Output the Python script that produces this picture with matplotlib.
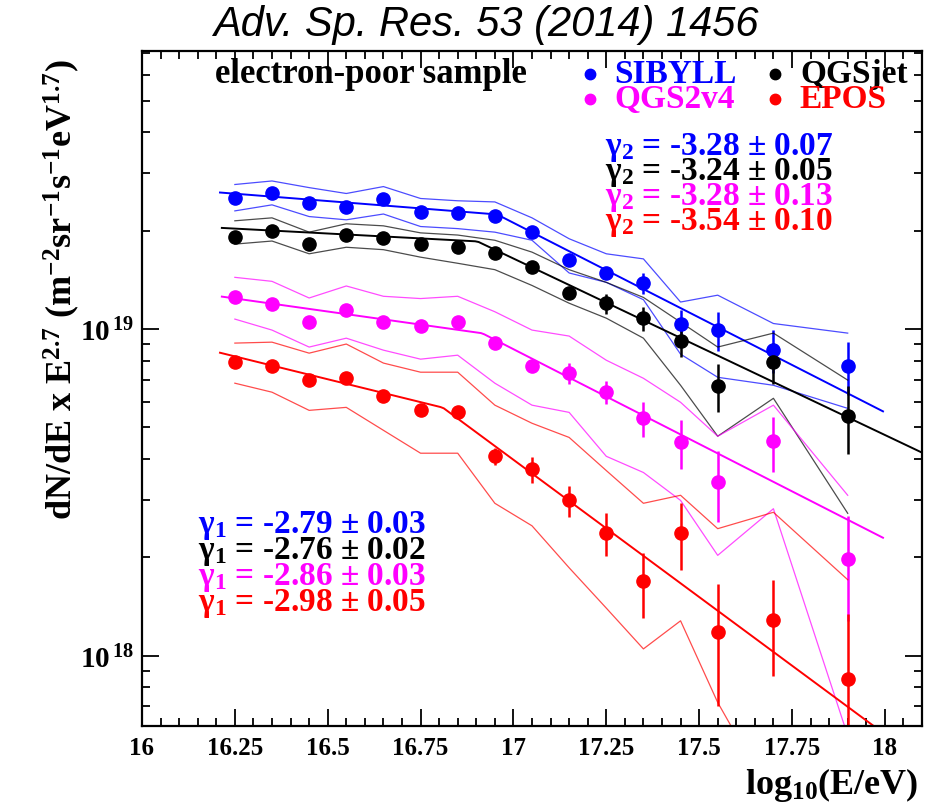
# Electron-poor sample spectra (KASCADE-Grande), four hadronic interaction models
import matplotlib.pyplot as plt
import numpy as np
from matplotlib.ticker import MultipleLocator, LogLocator, NullFormatter, FuncFormatter

plt.rcParams['font.family'] = ['Liberation Serif', 'DejaVu Serif']
plt.rcParams['font.weight'] = 'bold'
plt.rcParams['mathtext.fontset'] = 'custom'
plt.rcParams['mathtext.rm'] = 'Liberation Serif:bold'
plt.rcParams['mathtext.it'] = 'Liberation Serif:bold'
plt.rcParams['mathtext.bf'] = 'Liberation Serif:bold'
plt.rcParams['mathtext.default'] = 'rm'

# log10(E/eV) of the bins
log_e = [16.25, 16.35, 16.45, 16.55, 16.65, 16.75, 16.85, 16.95,
         17.05, 17.15, 17.25, 17.35, 17.45, 17.55, 17.7, 17.9]

models = ['SIBYLL', 'QGSjet', 'QGS2v4', 'EPOS']
colors = ['#0000ff', '#000000', '#ff00ff', '#ff0000']

# dN/dE x E^2.7, in units of 1e18
sibyll = [25.2, 26.1, 24.4, 23.7, 25.0, 22.9, 22.7, 22.2, 19.8, 16.3, 14.85, 13.8, 10.4, 9.93, 8.62, 7.70]
sibyll_err = [0.4, 0.4, 0.4, 0.4, 0.4, 0.4, 0.4, 0.5, 0.5, 0.6, 0.55, 1.0, 1.05, 1.34, 1.3, 1.42]
sibyll_up = [27.7, 28.4, 27.1, 26.0, 27.3, 25.1, 24.7, 24.5, 21.9, 18.9, 17.0, 16.4, 12.1, 12.7, 10.4, 9.72]
sibyll_lo = [23.0, 24.0, 22.1, 21.6, 22.5, 20.6, 20.3, 19.8, 18.7, 14.85, 13.9, 12.3, 8.38, 7.12, 6.73, 5.72]

qgsjet = [19.15, 20.0, 18.2, 19.4, 19.0, 18.2, 17.8, 17.1, 15.5, 12.9, 12.0, 10.8, 9.19, 6.69, 7.92, 5.41]
qgsjet_err = [0.3, 0.3, 0.3, 0.3, 0.3, 0.3, 0.3, 0.4, 0.4, 0.55, 0.85, 0.9, 0.96, 1.12, 1.14, 1.27]
qgsjet_up = [21.45, 21.9, 19.8, 21.0, 20.7, 19.7, 19.4, 18.7, 17.2, 15.2, 13.9, 12.5, 10.5, 8.81, 9.72, 6.98]
qgsjet_lo = [18.2, 18.6, 17.0, 17.8, 17.5, 16.6, 15.9, 15.2, 13.6, 12.0, 10.8, 9.38, 6.73, 4.70, 6.14, 2.73]

qgs2 = [12.54, 11.93, 10.5, 11.44, 10.5, 10.2, 10.5, 9.06, 7.70, 7.33, 6.41, 5.33, 4.50, 3.40, 4.53, 1.98]
qgs2_err = [0.2, 0.2, 0.2, 0.2, 0.2, 0.2, 0.2, 0.26, 0.33, 0.53, 0.51, 0.64, 0.76, 0.83, 0.87, 0.70]
qgs2_up = [14.4, 14.0, 12.45, 13.55, 12.6, 12.4, 12.6, 11.3, 9.93, 9.52, 8.03, 7.07, 5.97, 4.70, 5.85, 3.10]
qgs2_lo = [10.73, 9.93, 8.81, 9.38, 8.62, 8.09, 8.32, 6.83, 5.85, 5.56, 4.08, 3.64, 2.99, 2.03, 2.82, 0.57]

epos = [7.92, 7.70, 6.98, 7.08, 6.23, 5.64, 5.56, 4.08, 3.72, 2.99, 2.38, 1.69, 2.38, 1.18, 1.29, 0.85]
epos_err = [0.15, 0.15, 0.15, 0.15, 0.15, 0.15, 0.15, 0.24, 0.33, 0.33, 0.36, 0.38, 0.55, 0.48, 0.42, 0.49]
epos_up = [9.06, 9.12, 8.44, 9.0, 7.87, 7.38, 7.38, 5.85, 5.15, 4.66, 3.69, 2.93, 3.10, 2.45, 2.75, 1.71]
epos_lo = [6.83, 6.41, 5.64, 5.76, 4.90, 4.17, 4.17, 2.93, 2.50, 1.86, 1.40, 1.05, 1.28, 0.72, 0.36, 0.235]

# broken power-law fits
gamma1 = [-2.79, -2.76, -2.86, -2.98]
gamma1_err = [0.03, 0.02, 0.03, 0.05]
gamma2 = [-3.28, -3.24, -3.28, -3.54]
gamma2_err = [0.07, 0.05, 0.13, 0.10]
knee = [16.956, 16.903, 16.916, 16.81]        # log10(E/eV) of the break
knee_flux = [22.43, 18.55, 9.71, 5.75]        # 1e18 units
fit_start = [16.21, 16.215, 16.215, 16.21]
fit_end = [17.995, 18.1, 17.995, 18.0]

points = [sibyll, qgsjet, qgs2, epos]
errors = [sibyll_err, qgsjet_err, qgs2_err, epos_err]
uppers = [sibyll_up, qgsjet_up, qgs2_up, epos_up]
lowers = [sibyll_lo, qgsjet_lo, qgs2_lo, epos_lo]

fig = plt.figure(figsize=(9.41, 8.04), dpi=100)
ax = fig.add_axes([0.1509, 0.0958, 0.8289, 0.8396])

for i in range(4):
    c = colors[i]
    ax.plot(log_e, np.array(uppers[i]) * 1e18, color=c, lw=0.9, alpha=0.7)
    ax.plot(log_e, np.array(lowers[i]) * 1e18, color=c, lw=0.9, alpha=0.7)
    xf = np.linspace(fit_start[i], fit_end[i], 200)
    g = np.where(xf < knee[i], gamma1[i], gamma2[i])
    yf = knee_flux[i] * 1e18 * 10 ** ((g + 2.7) * (xf - knee[i]))
    ax.plot(xf, yf, color=c, lw=1.4)
    ax.errorbar(log_e, np.array(points[i]) * 1e18, yerr=np.array(errors[i]) * 1e18,
                fmt='o', color=c, ms=9.5, elinewidth=1.8, capsize=0)

ax.set_yscale('log')
ax.set_xlim(16, 18.1)
ax.set_ylim(6.1e17, 7.1e19)

ax.xaxis.set_major_locator(MultipleLocator(0.25))
ax.xaxis.set_minor_locator(MultipleLocator(0.05))
ax.xaxis.set_major_formatter(FuncFormatter(lambda v, p: '%g' % v))
ax.set_yticks([1e18, 1e19])
ax.set_yticklabels([r'10$^{\,18}$', r'10$^{\,19}$'])
ax.yaxis.set_minor_locator(LogLocator(base=10, subs=range(2, 10)))
ax.yaxis.set_minor_formatter(NullFormatter())
ax.tick_params(which='both', direction='in', top=True, right=True, width=1.3)
ax.tick_params(which='major', length=12, labelsize=18, pad=7)
ax.tick_params(axis='y', which='major', labelsize=21, pad=6)
ax.tick_params(which='minor', length=6)
for s in ax.spines.values():
    s.set_linewidth(1.6)

# legend row
ax.text(0.094, 0.966, 'electron-poor sample', transform=ax.transAxes,
        fontsize=25, va='center', ha='left')
leg_x = [0.574, 0.8115, 0.574, 0.8115]
leg_y = [0.966, 0.966, 0.929, 0.929]
for i in range(4):
    ax.plot(leg_x[i], leg_y[i], 'o', color=colors[i], ms=7.5, transform=ax.transAxes)
    ax.text(leg_x[i] + 0.032, leg_y[i], models[i], color=colors[i], transform=ax.transAxes,
            fontsize=24, va='center', ha='left')

# fitted slopes
for i in range(4):
    ax.text(0.5936, 0.858 - 0.037 * i,
            r'$\gamma_2$ = -%.2f $\pm$ %.2f' % (-gamma2[i], gamma2_err[i]),
            color=colors[i], transform=ax.transAxes, fontsize=24, va='center', ha='left')
    ax.text(0.0718, 0.298 - 0.0385 * i,
            r'$\gamma_1$ = -%.2f $\pm$ %.2f' % (-gamma1[i], gamma1_err[i]),
            color=colors[i], transform=ax.transAxes, fontsize=24, va='center', ha='left')

fig.text(0.2264, 0.969, 'Adv. Sp. Res. 53 (2014) 1456', fontsize=30, family='Liberation Sans',
         style='italic', weight='normal', ha='left', va='center')
fig.text(0.976, 0.024, r'log$_{10}$(E/eV)', fontsize=26, ha='right', va='center')
fig.text(0.066, 0.64, r'dN/dE x E$^{2.7}$ (m$^{-2}$sr$^{-1}$s$^{-1}$eV$^{1.7}$)',
         fontsize=26, rotation=90, ha='center', va='center')

fig.savefig('out.png', dpi=100)
